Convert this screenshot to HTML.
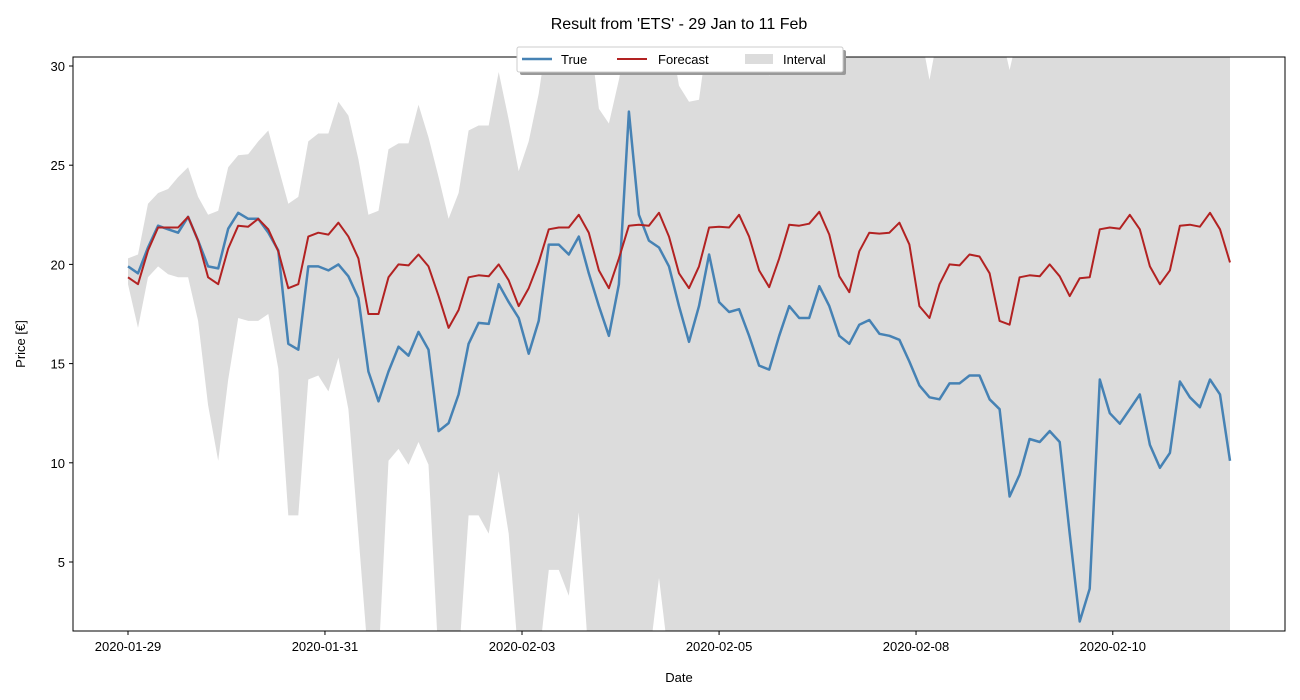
<!DOCTYPE html>
<html><head><meta charset="utf-8"><style>
html,body{margin:0;padding:0;background:#fff;}
svg{display:block;font-family:"Liberation Sans","DejaVu Sans",sans-serif;}
</style></head><body>
<svg id="chart" width="1300" height="700" viewBox="0 0 1300 700">
<defs><clipPath id="pc"><rect x="73" y="57" width="1212" height="574"/></clipPath></defs>
<text x="679" y="29" text-anchor="middle" font-size="16" fill="#000">Result from 'ETS' - 29 Jan to 11 Feb</text>
<g id="plot" clip-path="url(#pc)"></g>
<rect x="73" y="57" width="1212" height="574" fill="none" stroke="#000" stroke-width="1"/>
<g id="xaxis"></g>
<g id="yaxis"></g>
<text x="679" y="682" text-anchor="middle" font-size="13">Date</text>
<text transform="translate(25,344) rotate(-90)" text-anchor="middle" font-size="13">Price [€]</text>
<g>
<rect x="520" y="50" width="326" height="25" rx="2" fill="#999"/>
<rect x="517" y="47" width="326" height="25" rx="2" fill="#fff" stroke="#ccc"/>
<g><line x1="522" y1="59" x2="552" y2="59" stroke="#4682b4" stroke-width="2.5"/><text x="561" y="64" font-size="13">True</text></g>
<g><line x1="617" y1="59" x2="647" y2="59" stroke="#b22222" stroke-width="2"/><text x="658" y="64" font-size="13">Forecast</text></g>
<g><rect x="745" y="54" width="28" height="10" fill="#dcdcdc"/><text x="783" y="64" font-size="13">Interval</text></g>
</g>
</svg>
<script>
const xTickLabels = ["2020-01-29","2020-01-31","2020-02-03","2020-02-05","2020-02-08","2020-02-10"];
const xTickIndex = [0, 19.66, 39.33, 59, 78.66, 98.3];
const yTicks = [5,10,15,20,25,30];
const trueValues = [19.9,19.55,20.85,21.95,21.77,21.6,22.4,21.2,19.9,19.8,21.8,22.6,22.3,22.3,21.6,20.7,16.0,15.7,19.9,19.9,19.7,20.0,19.4,18.3,14.6,13.1,14.6,15.85,15.4,
16.6,15.7,11.6,12.0,13.45,16.0,17.05,17.0,19.0,18.1,17.3,15.5,17.15,21.0,21.0,20.5,21.4,19.55,17.9,16.4,19.0,27.7,22.5,21.2,20.85,19.9,17.9,16.1,
17.9,20.5,18.1,17.6,17.74,16.4,14.9,14.7,16.4,17.9,17.3,17.3,18.9,17.9,16.4,16.0,16.96,17.2,16.5,16.4,16.2,15.1,13.9,13.3,13.2,14.0,14.0,14.4,
14.4,13.2,12.7,8.3,9.4,11.2,11.05,11.6,11.05,6.43,2.0,3.65,14.2,12.5,11.97,12.7,13.45,10.9,9.75,10.5,14.1,13.3,12.8,14.2,13.45,10.1];
const forecastValues = [19.35,19.0,20.7,21.86,21.86,21.86,22.4,21.2,19.35,19.0,20.8,21.95,21.9,22.3,21.77,20.66,18.8,19.0,21.4,21.6,21.5,22.1,21.4,20.3,17.5,17.5,19.35,20.0,19.95,
20.5,19.9,18.4,16.8,17.7,19.35,19.45,19.4,20.0,19.2,17.9,18.8,20.1,21.77,21.86,21.86,22.5,21.6,19.7,18.8,20.3,21.95,22.0,21.95,22.6,21.4,19.55,18.8,
19.9,21.86,21.9,21.86,22.5,21.4,19.7,18.85,20.3,22.0,21.95,22.05,22.65,21.5,19.4,18.6,20.66,21.6,21.55,21.6,22.1,21.0,17.9,17.3,19.0,20.0,19.95,20.5,
20.4,19.55,17.15,16.96,19.35,19.45,19.4,20.0,19.4,18.4,19.3,19.35,21.77,21.86,21.8,22.5,21.77,19.9,19.0,19.7,21.95,22.0,21.9,22.6,21.77,20.1];
const upperValues = [20.3,20.5,23.06,23.6,23.8,24.4,24.9,23.4,22.5,22.7,24.9,25.5,25.55,26.2,26.75,24.9,23.06,23.4,26.2,26.6,26.6,28.2,27.5,25.3,22.5,22.7,25.8,26.1,26.1,
28.05,26.4,24.4,22.3,23.6,26.75,27.0,27.0,29.7,27.3,24.7,26.2,28.6,32,32,32,32,32,27.85,27.1,29.3,32,32,32,32,32,29.0,28.2,
28.3,32,32,32,32,32,32,29.5,32,32,32,32,32,32,32,32,32,32,32,32,32,32,32,29.3,32,32,32,32,
32,32,32,29.8,32,32,32,32,32,32,32,32,32,32,32,32,32,32,32,32,32,32,32,32,32,32];
const lowerValues = [19.0,16.8,19.35,19.9,19.5,19.35,19.35,17.15,12.9,10.1,14.2,17.3,17.15,17.15,17.5,14.75,7.35,7.35,14.2,14.4,13.6,15.3,12.7,6.4,0,0,10.1,10.7,9.9,
11.05,9.9,0,0,0,7.35,7.35,6.43,9.57,6.43,0,0,0,4.6,4.6,3.3,7.5,0,0,0,0,0,0,0,4.2,0,0,0,
0,0,0,0,0,0,0,0,0,0,0,0,0,0,0,0,0,0,0,0,0,0,0,0,0,0,0,0,
0,0,0,0,0,0,0,0,0,0,0,0,0,0,0,0,0,0,0,0,0,0,0,0,0,0];

const NS = "http://www.w3.org/2000/svg";
const N = trueValues.length;
const X0 = 128, X1 = 1230;
function xScale(i){ return X0 + i * (X1 - X0) / (N - 1); }
function yScale(v){ return 66 + (30 - v) * 19.84; }
const plot = document.getElementById('plot');

const n2 = Math.min(upperValues.length, lowerValues.length);
let d = '';
for (let i = 0; i < n2; i++) d += (i ? 'L' : 'M') + xScale(i).toFixed(1) + ',' + yScale(upperValues[i]).toFixed(1);
for (let i = n2 - 1; i >= 0; i--) d += 'L' + xScale(i).toFixed(1) + ',' + yScale(lowerValues[i]).toFixed(1);
d += 'Z';
const band = document.createElementNS(NS, 'path');
band.setAttribute('d', d);
band.setAttribute('fill', '#dcdcdc');


plot.appendChild(band);

function line(vals, color, w, name){
  const p = document.createElementNS(NS, 'polyline');
  p.setAttribute('points', vals.map((v, i) => xScale(i).toFixed(1) + ',' + yScale(v).toFixed(1)).join(' '));
  p.setAttribute('fill', 'none');
  p.setAttribute('stroke', color);
  p.setAttribute('stroke-width', w);
  p.setAttribute('stroke-linejoin', 'round');
  
  
  plot.appendChild(p);
}
line(trueValues, '#4682b4', 2.5, 'true-line');
line(forecastValues, '#b22222', 2, 'forecast-line');

const xa = document.getElementById('xaxis');
xTickLabels.forEach((lab, k) => {
  const x = xScale(xTickIndex[k]);
  const t = document.createElementNS(NS, 'line');
  t.setAttribute('x1', x); t.setAttribute('x2', x); t.setAttribute('y1', 631); t.setAttribute('y2', 635);
  t.setAttribute('stroke', '#000');
  
  
  xa.appendChild(t);
  const tx = document.createElementNS(NS, 'text');
  tx.setAttribute('x', x); tx.setAttribute('y', 651); tx.setAttribute('text-anchor', 'middle'); tx.setAttribute('font-size', '13');
  tx.textContent = lab;
  
  
  xa.appendChild(tx);
});
const ya = document.getElementById('yaxis');
yTicks.forEach(v => {
  const y = yScale(v);
  const t = document.createElementNS(NS, 'line');
  t.setAttribute('x1', 69); t.setAttribute('x2', 73); t.setAttribute('y1', y); t.setAttribute('y2', y);
  t.setAttribute('stroke', '#000');
  
  
  ya.appendChild(t);
  const tx = document.createElementNS(NS, 'text');
  tx.setAttribute('x', 65); tx.setAttribute('y', y + 5); tx.setAttribute('text-anchor', 'end'); tx.setAttribute('font-size', '13');
  tx.textContent = v;
  
  
  ya.appendChild(tx);
});
</script>
</body></html>
